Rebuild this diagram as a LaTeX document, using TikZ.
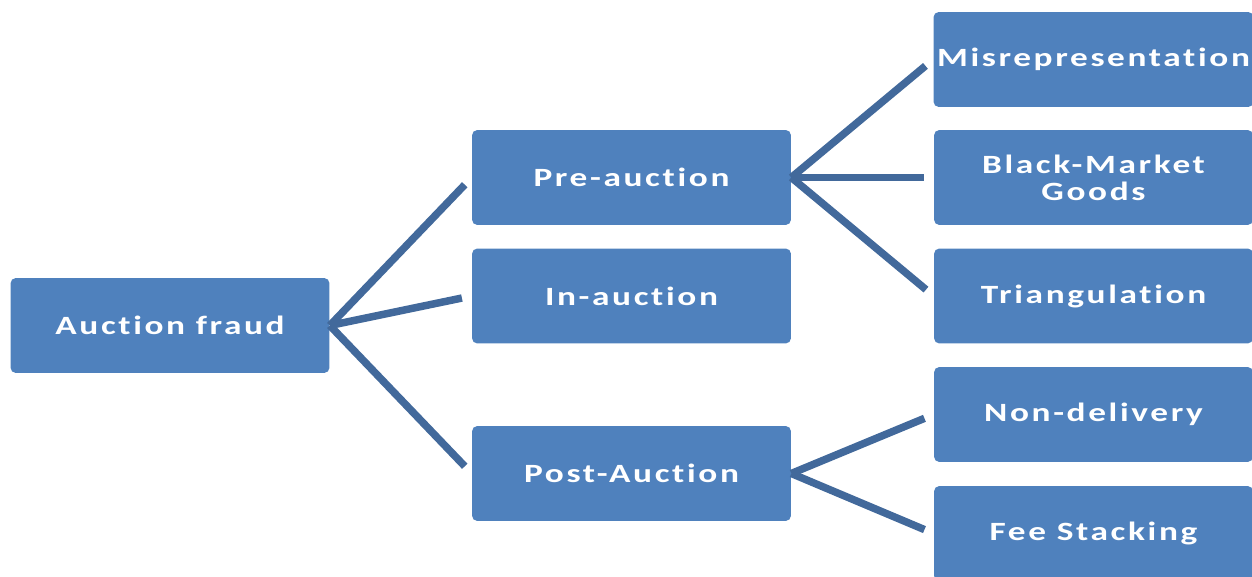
\documentclass[tikz,border=0pt]{standalone}
\usepackage{fontspec}
\setmainfont{Carlito}[LetterSpace=10, FakeStretch=1.34, Ligatures=NoCommon]
\definecolor{boxblue}{HTML}{4F81BD}
\definecolor{lineblue}{HTML}{42699B}
\begin{document}
\begin{tikzpicture}[
    x=0.02cm, y=-0.02cm,
    every node/.style={font=\bfseries\fontsize{15}{15.5}\selectfont, align=center, text=white},
    box/.style={rectangle, fill=boxblue, rounded corners=3pt, minimum width=6.38cm, minimum height=1.9cm, inner sep=2pt},
    link/.style={lineblue, line width=0.15cm, shorten >=0.2cm}
]
\useasboundingbox (0,0) rectangle (1252,577);
\node[box] (fraud) at (170, 325.5)  {Auction fraud};
\node[box] (pre)   at (631.5, 177.5){Pre-auction};
\node[box] (in)    at (631.5, 296)  {In-auction};
\node[box] (post)  at (631.5, 473.5){Post-Auction};
\node[box] (misrep) at (1093.5, 59.5) {Misrepresentation};
\node[box] (black)  at (1093.5, 177.5){Black-Market\\Goods};
\node[box] (tri)    at (1093.5, 296)  {Triangulation};
\node[box] (nondel) at (1093.5, 414.5){Non-delivery};
\node[box] (fee)    at (1093.5, 533.5){Fee Stacking};

\draw[link] (fraud.east) -- (pre.west);
\draw[link] (fraud.east) -- (in.west);
\draw[link] (fraud.east) -- (post.west);
\draw[link] (pre.east) -- (misrep.west);
\draw[link] (pre.east) -- (black.west);
\draw[link] (pre.east) -- (tri.west);
\draw[link] (post.east) -- (nondel.west);
\draw[link] (post.east) -- (fee.west);
\end{tikzpicture}
\end{document}
